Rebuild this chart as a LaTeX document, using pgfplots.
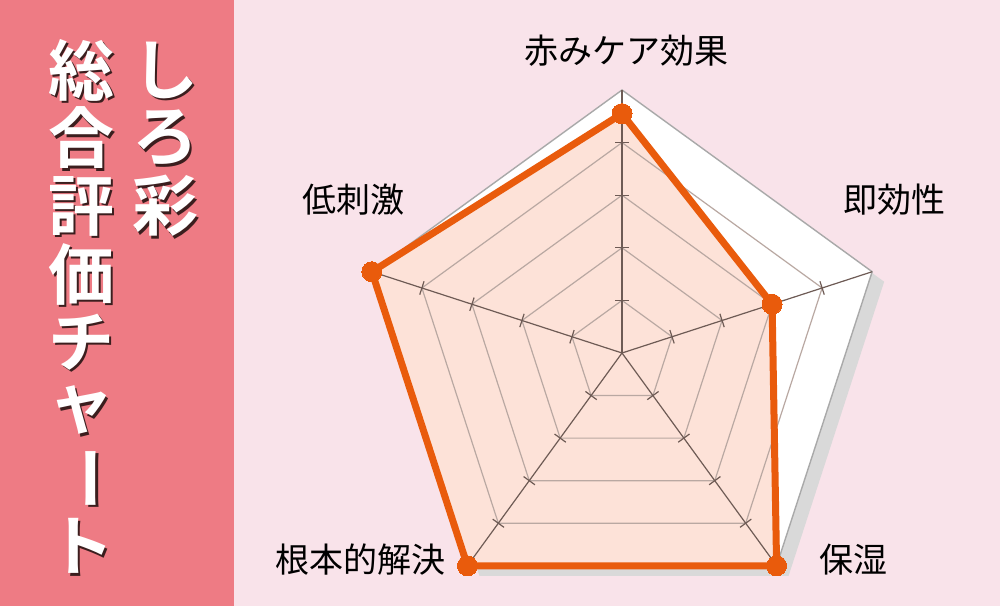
\documentclass[border=0pt]{standalone}
\usepackage{pgfplots}
\pgfplotsset{compat=1.18}
\usepackage{fontspec}
\newfontfamily\jp{Noto Sans CJK JP}[BoldFont={Noto Sans CJK JP Bold}]

\definecolor{bgpink}{HTML}{F9E3EA}
\definecolor{panel}{HTML}{EE7B84}
\definecolor{shadowc}{HTML}{D9D9D9}
\definecolor{outerc}{HTML}{A9A9A9}
\definecolor{gridc}{HTML}{B9A8A2}
\definecolor{spokec}{HTML}{6E5B55}
\definecolor{datafill}{HTML}{FDE2D8}
\definecolor{dataline}{HTML}{E95B0C}
\definecolor{titleshadow}{HTML}{3B1E1E}

\begin{document}
\begin{tikzpicture}
\begin{axis}[
    x=26.3pt, y=26.3pt,
    xmin=-11.825, xmax=7.186,
    ymin=-4.810, ymax=6.711,
    hide axis, clip=false,
]
% background and side panel
\fill[bgpink] (axis cs:-11.825,-4.810) rectangle (axis cs:7.186,6.711);
\fill[panel] (axis cs:-11.825,-4.810) rectangle (axis cs:-7.376,6.711);

% shadow and outer pentagon
\addplot[data cs=polar, draw=none, fill=shadowc, shift={(6pt,-5pt)}]
    coordinates {(90,5)(18,5)(-54,5)(-126,5)(162,5)} -- cycle;
\addplot[data cs=polar, draw=outerc, line width=0.7pt, fill=white]
    coordinates {(90,5)(18,5)(-54,5)(-126,5)(162,5)} -- cycle;

% data area
\addplot[data cs=polar, draw=none, fill=datafill]
    coordinates {(90,4.55)(18,3)(-54,5)(-126,5)(162,5)} -- cycle;

% grid
\addplot[data cs=polar, gridc, line width=0.6pt] coordinates {(90,1)(18,1)(-54,1)(-126,1)(162,1)(90,1)};
\addplot[data cs=polar, gridc, line width=0.6pt] coordinates {(90,2)(18,2)(-54,2)(-126,2)(162,2)(90,2)};
\addplot[data cs=polar, gridc, line width=0.6pt] coordinates {(90,3)(18,3)(-54,3)(-126,3)(162,3)(90,3)};
\addplot[data cs=polar, gridc, line width=0.6pt] coordinates {(90,4)(18,4)(-54,4)(-126,4)(162,4)(90,4)};

% spokes with ticks
\addplot[data cs=polar, spokec, line width=0.6pt] coordinates {(90,0)(90,5)};
\addplot[data cs=polar, spokec, line width=0.6pt] coordinates {(18,0)(18,5)};
\addplot[data cs=polar, spokec, line width=0.6pt] coordinates {(-54,0)(-54,5)};
\addplot[data cs=polar, spokec, line width=0.6pt] coordinates {(-126,0)(-126,5)};
\addplot[data cs=polar, spokec, line width=0.6pt] coordinates {(162,0)(162,5)};
\addplot[data cs=polar, only marks, mark=-, mark size=3.5pt, mark options={spokec, line width=0.6pt, rotate=0}]
    coordinates {(90,1)(90,2)(90,3)(90,4)};
\addplot[data cs=polar, only marks, mark=-, mark size=3.5pt, mark options={spokec, line width=0.6pt, rotate=-72}]
    coordinates {(18,1)(18,2)(18,3)(18,4)};
\addplot[data cs=polar, only marks, mark=-, mark size=3.5pt, mark options={spokec, line width=0.6pt, rotate=-144}]
    coordinates {(-54,1)(-54,2)(-54,3)(-54,4)};
\addplot[data cs=polar, only marks, mark=-, mark size=3.5pt, mark options={spokec, line width=0.6pt, rotate=-216}]
    coordinates {(-126,1)(-126,2)(-126,3)(-126,4)};
\addplot[data cs=polar, only marks, mark=-, mark size=3.5pt, mark options={spokec, line width=0.6pt, rotate=72}]
    coordinates {(162,1)(162,2)(162,3)(162,4)};

% data line
\addplot[data cs=polar, dataline, line width=3.5pt, line join=round,
    mark=*, mark size=5pt, mark options={fill=dataline, draw=dataline, line width=0pt}]
    coordinates {(90,4.55)(18,3)(-54,5)(-126,5)(162,5)(90,4.55)};

% axis labels
\node[font=\jp\fontsize{17}{17}\selectfont] at (axis cs:0.076,5.741) {赤みケア効果};
\node[font=\jp\fontsize{17}{17}\selectfont] at (axis cs:5.171,2.909) {即効性};
\node[font=\jp\fontsize{17}{17}\selectfont] at (axis cs:4.392,-3.935) {保湿};
\node[font=\jp\fontsize{17}{17}\selectfont] at (axis cs:-4.981,-3.935) {根本的解決};
\node[font=\jp\fontsize{17}{17}\selectfont] at (axis cs:-5.114,2.909) {低刺激};

% vertical title
\foreach \ch [count=\k from 0] in {総,合,評,価,チ,ャ,ー,ト} {
  \pgfmathsetmacro{\yy}{5.380-1.2928*\k}
  \edef\temp{\noexpand\node[font=\noexpand\jp\noexpand\bfseries\noexpand\fontsize{33}{33}\noexpand\selectfont, text=titleshadow, inner sep=0pt, xshift=1.3pt, yshift=-1.3pt, rotate=\ifnum\k=6 -90\else 0\fi] at (axis cs:-10.285,\yy) {\ch};}
  \temp
  \edef\temp{\noexpand\node[font=\noexpand\jp\noexpand\bfseries\noexpand\fontsize{33}{33}\noexpand\selectfont, text=white, inner sep=0pt, rotate=\ifnum\k=6 -90\else 0\fi] at (axis cs:-10.285,\yy) {\ch};}
  \temp
}
\foreach \ch [count=\k from 0] in {し,ろ,彩} {
  \pgfmathsetmacro{\yy}{5.380-1.2928*\k}
  \edef\temp{\noexpand\node[font=\noexpand\jp\noexpand\bfseries\noexpand\fontsize{33}{33}\noexpand\selectfont, text=titleshadow, inner sep=0pt, xshift=1.3pt, yshift=-1.3pt] at (axis cs:-8.688,\yy) {\ch};}
  \temp
  \edef\temp{\noexpand\node[font=\noexpand\jp\noexpand\bfseries\noexpand\fontsize{33}{33}\noexpand\selectfont, text=white, inner sep=0pt] at (axis cs:-8.688,\yy) {\ch};}
  \temp
}
\end{axis}
\end{tikzpicture}
\end{document}
